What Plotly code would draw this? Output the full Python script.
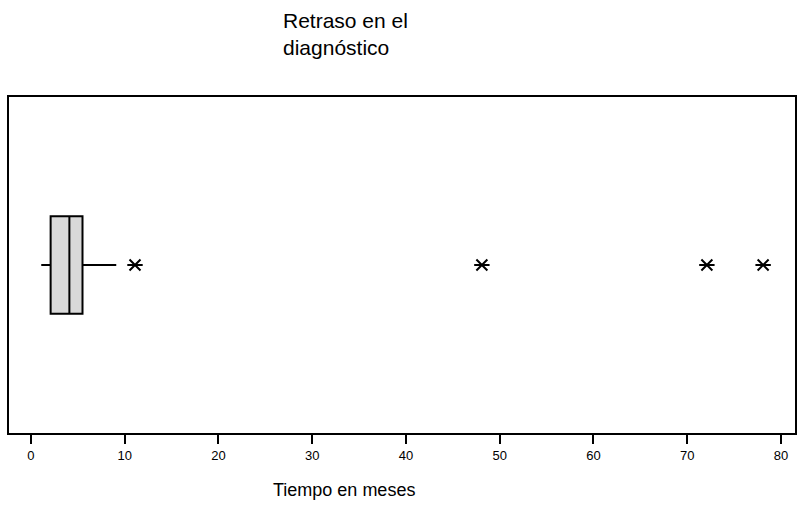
import plotly.graph_objects as go

# Data
lower_fence = [1.1]
q1 = [2.1]
median = [4.1]
q3 = [5.5]
upper_fence = [9.1]
outliers = [11.1, 48.1, 72.1, 78.1]
tick_vals = [0, 10, 20, 30, 40, 50, 60, 70, 80]
title_text = "Retraso en el<br>diagnóstico"
xaxis_title = "Tiempo en meses"

FONT = "Arial, Liberation Sans, sans-serif"

fig = go.Figure()
fig.add_trace(go.Box(
    y=[0], q1=q1, median=median, q3=q3,
    lowerfence=lower_fence, upperfence=upper_fence,
    orientation="h", width=0.58, whiskerwidth=0,
    fillcolor="#d9d9d9", line=dict(color="black", width=2),
    boxpoints=False, showlegend=False, hoverinfo="skip",
))
out_y = [0] * len(outliers)
for sym in ["x-thin-open", "line-ew-open"]:
    fig.add_trace(go.Scatter(
        x=outliers, y=out_y, mode="markers", showlegend=False,
        marker=dict(symbol=sym, size=11, color="black",
                    line=dict(color="black", width=2)),
    ))

PLOT_TOP, PLOT_BOTTOM, PLOT_LEFT, PLOT_W = 97, 433, 9, 788
PLOT_H = PLOT_BOTTOM - PLOT_TOP

fig.update_layout(
    width=803, height=506,
    margin=dict(l=9, r=6, t=97, b=73),
    paper_bgcolor="white", plot_bgcolor="white",
    font=dict(family=FONT, color="black"),
    xaxis=dict(range=[-2.34, 81.5], tickvals=tick_vals, ticks="outside",
               ticklen=9, tickwidth=2, tickcolor="black",
               showline=True, linecolor="black", linewidth=2, mirror=True,
               showgrid=False, zeroline=False,
               tickfont=dict(size=13, family=FONT, color="black")),
    yaxis=dict(range=[-1, 1], showticklabels=False, ticks="",
               showline=True, linecolor="black", linewidth=2, mirror=True,
               showgrid=False, zeroline=False),
    annotations=[
        dict(text=title_text, xref="paper", yref="paper",
             x=(282 - PLOT_LEFT) / PLOT_W, y=(PLOT_BOTTOM - 7) / PLOT_H,
             xanchor="left", yanchor="top", align="left", showarrow=False,
             font=dict(size=21, family=FONT, color="black")),
        dict(text=xaxis_title, xref="paper", yref="paper",
             x=(344.5 - PLOT_LEFT) / PLOT_W, y=(PLOT_BOTTOM - 490) / PLOT_H,
             xanchor="center", yanchor="middle", showarrow=False,
             font=dict(size=18, family=FONT, color="black")),
    ],
)

fig.write_html("out.html")
